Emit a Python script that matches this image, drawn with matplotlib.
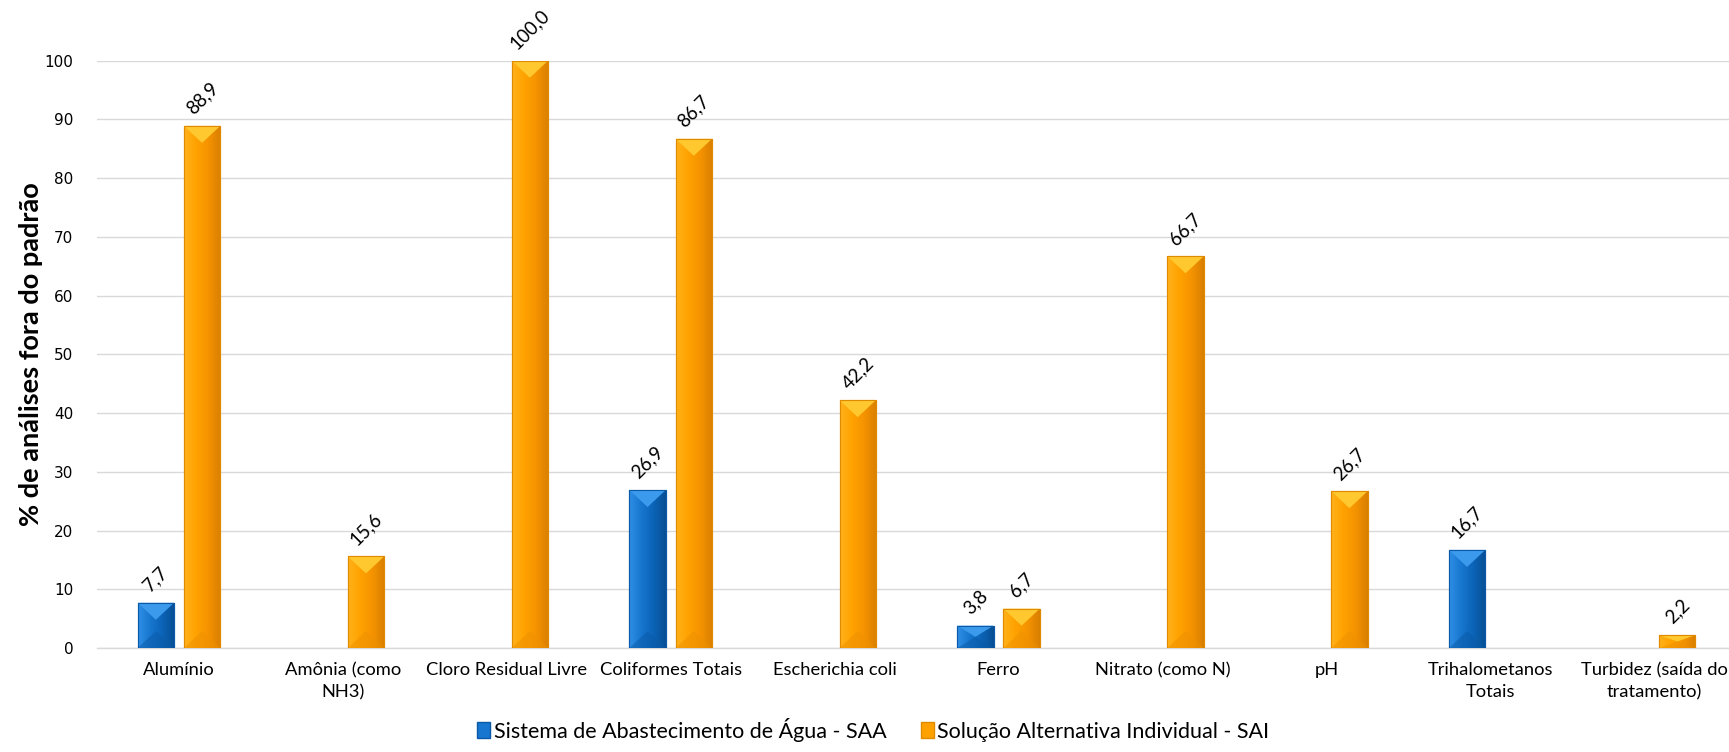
import numpy as np
import matplotlib
matplotlib.use("Agg")
import matplotlib.pyplot as plt
from matplotlib.colors import LinearSegmentedColormap
from matplotlib.patches import Polygon, Patch

# ── data ─────────────────────────────────────────────────────────
CATEGORIES = [
    "Alumínio", "Amônia (como\nNH3)", "Cloro Residual Livre", "Coliformes Totais",
    "Escherichia coli", "Ferro", "Nitrato (como N)", "pH",
    "Trihalometanos\nTotais", "Turbidez (saída do\ntratamento)",
]
SAA = [7.7, np.nan, np.nan, 26.9, np.nan, 3.8, np.nan, np.nan, 16.7, np.nan]
SAI = [88.9, 15.6, 100.0, 86.7, 42.2, 6.7, 66.7, 26.7, np.nan, 2.2]
SERIES_NAMES = ["Sistema de Abastecimento de Água - SAA",
                "Solução Alternativa Individual - SAI"]
Y_TICKS = list(range(0, 101, 10))

# bevel-ish styling: (gradient left->right, top facet, bottom facet, edge)
STYLES = [
    (["#2F8FE6", "#1776CF", "#0B63B6", "#074F94"], "#3C9AEC", "#0A5AA8", "#0A5AA8"),
    (["#FFB21A", "#FFA200", "#F59300", "#D97F00"], "#FFC82E", "#EE9000", "#E08A00"),
]

FONT = ["Lato", "DejaVu Sans"]


def beveled_bars(ax, xs, vals, width, style):
    grad_cols, top_col, bot_col, edge_col = style
    cmap = LinearSegmentedColormap.from_list("g", grad_cols)
    grad = np.linspace(0, 1, 64).reshape(1, -1)
    depth = 2.9  # data units of the top facet
    for x, v in zip(xs, vals):
        if np.isnan(v):
            continue
        bar = ax.bar(x, v, width, color=grad_cols[1], edgecolor=edge_col,
                     linewidth=0.8, zorder=3)[0]
        x0, x1 = x - width / 2, x + width / 2
        im = ax.imshow(grad, cmap=cmap, extent=[x0, x1, 0, v], aspect="auto",
                       zorder=3.1)
        im.set_clip_path(bar)
        d = min(depth, v / 2)
        ax.add_patch(Polygon([(x0, v), (x1, v), (x, v - d)], closed=True,
                             facecolor=top_col, edgecolor="none", zorder=3.2))
        ax.add_patch(Polygon([(x0, 0), (x1, 0), (x, d)], closed=True,
                             facecolor=bot_col, edgecolor="none", alpha=0.5,
                             zorder=3.2))
        ax.add_patch(Polygon([(x0, 0), (x1, 0), (x1, v), (x0, v)], closed=True,
                             facecolor="none", edgecolor=edge_col, linewidth=0.8,
                             zorder=3.3))
        ax.annotate(f"{v:.1f}".replace(".", ","), (x, v), xytext=(0, 6),
                    textcoords="offset points", ha="center", va="bottom",
                    rotation=45, fontsize=13.5, family=FONT, color="#000000",
                    annotation_clip=False, zorder=5)


fig = plt.figure(figsize=(17.29, 7.52), dpi=100)
ax = fig.add_axes([0.0561, 0.1383, 0.948, 0.781])

xs = np.arange(len(CATEGORIES))
width = 0.222
offset = 0.141
beveled_bars(ax, xs - offset, SAA, width, STYLES[0])
beveled_bars(ax, xs + offset, SAI, width, STYLES[1])

ax.set_xlim(-0.5, len(CATEGORIES) - 0.5)
ax.set_ylim(0, 100)
ax.set_yticks(Y_TICKS)
ax.set_yticklabels([str(t) for t in Y_TICKS], fontsize=11, family="DejaVu Sans")
ax.set_xticks(xs)
ax.set_xticklabels(CATEGORIES, fontsize=13.2, family=FONT, linespacing=1.45)
ax.tick_params(axis="y", length=0, pad=17)
ax.tick_params(axis="x", length=0, pad=10)
ax.grid(axis="y", color="#D9D9D9", linewidth=1.0, zorder=0)
ax.set_axisbelow(True)
for side in ("top", "right", "left"):
    ax.spines[side].set_visible(False)
ax.spines["bottom"].set_color("#D9D9D9")
ax.spines["bottom"].set_linewidth(1.0)

fig.text(0.018, 0.529, "% de análises fora do padrão", rotation=90,
         ha="center", va="center", fontsize=19.5, fontweight="bold", family=FONT)

handles = [Patch(facecolor=STYLES[0][0][1], edgecolor=STYLES[0][3]),
           Patch(facecolor=STYLES[1][0][1], edgecolor=STYLES[1][3])]
fig.legend(handles, SERIES_NAMES, loc="lower center", ncol=2,
           bbox_to_anchor=(0.505, -0.012), frameon=False,
           prop={"family": FONT, "size": 15.5}, handlelength=0.6,
           handleheight=0.8, handletextpad=0.15, columnspacing=1.6)

fig.savefig("out.png", dpi=100)
